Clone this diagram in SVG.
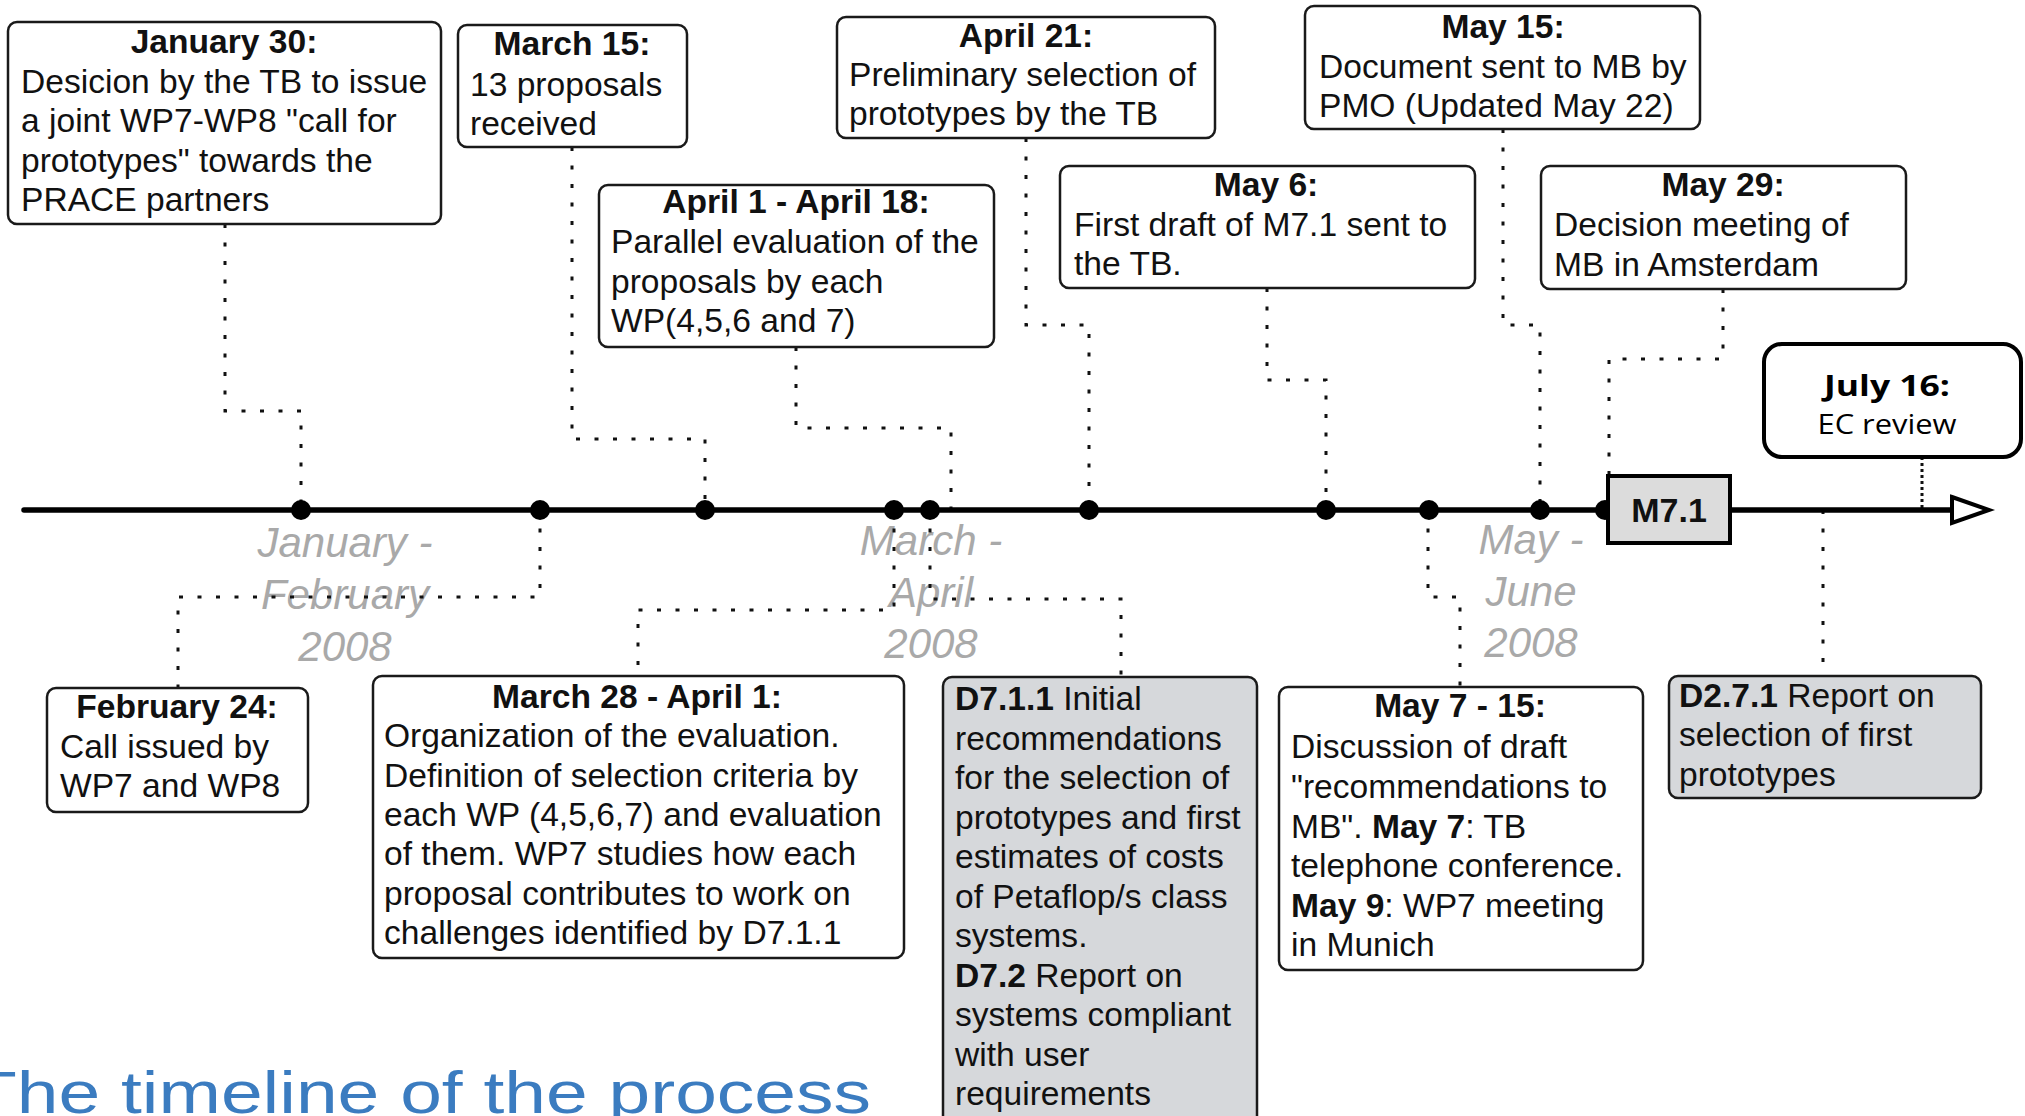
<svg xmlns="http://www.w3.org/2000/svg" width="2025" height="1116" viewBox="0 0 2025 1116">
<style>
.box{fill:#fff;stroke:#1a1a1a;stroke-width:2.5}
.dbox{fill:#d6d8db;stroke:#1a1a1a;stroke-width:2.5}
.t{font-family:"Liberation Sans",Arial,Helvetica,sans-serif;font-size:33.6px;fill:#111}
.h{font-weight:bold;text-anchor:middle}
.b{font-weight:bold}
.season{font-family:"Liberation Sans",Arial,sans-serif;font-size:42px;font-style:italic;fill:#a9a9a9;text-anchor:middle}
.con{fill:none;stroke:#111;stroke-width:3;stroke-dasharray:4 14.5}
.con2{fill:none;stroke:#111;stroke-width:3;stroke-dasharray:3 3}
.dot{fill:#000}
</style>
<rect width="2025" height="1116" fill="#fff"/>
<g id="seasons">
<text class="season" x="345" y="557">January -</text>
<text class="season" x="345" y="609">February</text>
<text class="season" x="345" y="661">2008</text>
<text class="season" x="931" y="555">March -</text>
<text class="season" x="931" y="607">April</text>
<text class="season" x="931" y="658">2008</text>
<text class="season" x="1531" y="554">May -</text>
<text class="season" x="1531" y="606">June</text>
<text class="season" x="1531" y="657">2008</text>
</g>
<g id="connectors">
<path class="con" d="M225,224 V411 H301 V510"/>
<path class="con" d="M572,147 V439 H705 V510"/>
<path class="con" d="M796,347 V428 H951 V510"/>
<path class="con" d="M1026,138 V325 H1089 V510"/>
<path class="con" d="M1267,288 V380 H1326 V510"/>
<path class="con" d="M1503,129 V325 H1540 V510"/>
<path class="con" d="M1723,289 V359 H1609 V476"/>
<path class="con2" d="M1922,457 V510"/>
<path class="con" d="M540,510 V597 H178 V688"/>
<path class="con" d="M894,510 V610 H638 V676"/>
<path class="con" d="M930,510 V599 H1121 V677"/>
<path class="con" d="M1428,510 V597 H1460 V687"/>
<path class="con" d="M1823,510 V676"/>
</g>
<g id="axis">
<line x1="24" y1="510" x2="1954" y2="510" stroke="#000" stroke-width="5.5" stroke-linecap="round"/>
<polygon points="1952,497 1989,510 1952,523" fill="#fff" stroke="#000" stroke-width="4" stroke-linejoin="miter"/>
<circle class="dot" cx="301" cy="510" r="10"/>
<circle class="dot" cx="540" cy="510" r="10"/>
<circle class="dot" cx="705" cy="510" r="10"/>
<circle class="dot" cx="894" cy="510" r="10"/>
<circle class="dot" cx="930" cy="510" r="10"/>
<circle class="dot" cx="1089" cy="510" r="10"/>
<circle class="dot" cx="1326" cy="510" r="10"/>
<circle class="dot" cx="1429" cy="510" r="10"/>
<circle class="dot" cx="1540" cy="510" r="10"/>
<circle class="dot" cx="1605" cy="510" r="10"/>
</g>
<g id="jan30">
<rect class="box" x="8" y="22" width="433" height="202" rx="9"/>
<text class="t h" x="224" y="53">January 30:</text>
<text class="t" x="21" y="93">Desicion by the TB to issue</text>
<text class="t" x="21" y="132">a joint WP7-WP8 "call for</text>
<text class="t" x="21" y="172">prototypes" towards the</text>
<text class="t" x="21" y="211">PRACE partners</text>
</g>
<g id="mar15">
<rect class="box" x="458" y="25" width="229" height="122" rx="9"/>
<text class="t h" x="572" y="55">March 15:</text>
<text class="t" x="470" y="96">13 proposals</text>
<text class="t" x="470" y="135">received</text>
</g>
<g id="apr1">
<rect class="box" x="599" y="185" width="395" height="162" rx="9"/>
<text class="t h" x="796" y="213">April 1 - April 18:</text>
<text class="t" x="611" y="253">Parallel evaluation of the</text>
<text class="t" x="611" y="293">proposals by each</text>
<text class="t" x="611" y="332">WP(4,5,6 and 7)</text>
</g>
<g id="apr21">
<rect class="box" x="837" y="17" width="378" height="121" rx="9"/>
<text class="t h" x="1026" y="47">April 21:</text>
<text class="t" x="849" y="86">Preliminary selection of</text>
<text class="t" x="849" y="125">prototypes by the TB</text>
</g>
<g id="may6">
<rect class="box" x="1060" y="166" width="415" height="122" rx="9"/>
<text class="t h" x="1266" y="196">May 6:</text>
<text class="t" x="1074" y="236">First draft of M7.1 sent to</text>
<text class="t" x="1074" y="275">the TB.</text>
</g>
<g id="may15">
<rect class="box" x="1305" y="6" width="395" height="123" rx="9"/>
<text class="t h" x="1503" y="38">May 15:</text>
<text class="t" x="1319" y="78">Document sent to MB by</text>
<text class="t" x="1319" y="117">PMO (Updated May 22)</text>
</g>
<g id="may29">
<rect class="box" x="1541" y="166" width="365" height="123" rx="9"/>
<text class="t h" x="1723" y="196">May 29:</text>
<text class="t" x="1554" y="236">Decision meeting of</text>
<text class="t" x="1554" y="276">MB in Amsterdam</text>
</g>
<g id="jul16">
<rect x="1764" y="344" width="257" height="113" rx="18" fill="#fff" stroke="#000" stroke-width="4"/>
<text x="1887" y="396" text-anchor="middle" font-family="'Open Sans','Noto Sans',sans-serif" font-size="29" font-weight="bold" fill="#000" textLength="126" lengthAdjust="spacingAndGlyphs">July 16:</text>
<text x="1887" y="434" text-anchor="middle" font-family="'Open Sans','Noto Sans',sans-serif" font-size="28" fill="#000" textLength="139" lengthAdjust="spacingAndGlyphs">EC review</text>
</g>
<g id="m71">
<rect x="1608" y="476" width="122" height="67" fill="#dcdcdc" stroke="#000" stroke-width="4"/>
<text class="t h" x="1669" y="522" style="font-size:34px">M7.1</text>
</g>
<g id="feb24">
<rect class="box" x="47" y="688" width="261" height="124" rx="9"/>
<text class="t h" x="177" y="718">February 24:</text>
<text class="t" x="60" y="758">Call issued by</text>
<text class="t" x="60" y="797">WP7 and WP8</text>
</g>
<g id="mar28">
<rect class="box" x="373" y="676" width="531" height="282" rx="9"/>
<text class="t h" x="637" y="708">March 28 - April 1:</text>
<text class="t" x="384" y="747">Organization of the evaluation.</text>
<text class="t" x="384" y="787">Definition of selection criteria by</text>
<text class="t" x="384" y="826">each WP (4,5,6,7) and evaluation</text>
<text class="t" x="384" y="865">of them. WP7 studies how each</text>
<text class="t" x="384" y="905">proposal contributes to work on</text>
<text class="t" x="384" y="944">challenges identified by D7.1.1</text>
</g>
<g id="d711">
<rect class="dbox" x="943" y="677" width="314" height="460" rx="9"/>
<text class="t" x="955" y="710"><tspan class="b">D7.1.1</tspan> Initial</text>
<text class="t" x="955" y="750">recommendations</text>
<text class="t" x="955" y="789">for the selection of</text>
<text class="t" x="955" y="829">prototypes and first</text>
<text class="t" x="955" y="868">estimates of costs</text>
<text class="t" x="955" y="908">of Petaflop/s class</text>
<text class="t" x="955" y="947">systems.</text>
<text class="t" x="955" y="987"><tspan class="b">D7.2</tspan> Report on</text>
<text class="t" x="955" y="1026">systems compliant</text>
<text class="t" x="955" y="1066">with user</text>
<text class="t" x="955" y="1105">requirements</text>
</g>
<g id="may7">
<rect class="box" x="1279" y="687" width="364" height="283" rx="9"/>
<text class="t h" x="1460" y="717">May 7 - 15:</text>
<text class="t" x="1291" y="758">Discussion of draft</text>
<text class="t" x="1291" y="798">"recommendations to</text>
<text class="t" x="1291" y="838">MB". <tspan class="b">May 7</tspan>: TB</text>
<text class="t" x="1291" y="877">telephone conference.</text>
<text class="t" x="1291" y="917"><tspan class="b">May 9</tspan>: WP7 meeting</text>
<text class="t" x="1291" y="956">in Munich</text>
</g>
<g id="d271">
<rect class="dbox" x="1669" y="676" width="312" height="122" rx="9"/>
<text class="t" x="1679" y="707"><tspan class="b">D2.7.1</tspan> Report on</text>
<text class="t" x="1679" y="746">selection of first</text>
<text class="t" x="1679" y="786">prototypes</text>
</g>
<g id="title">
<text x="-29" y="1113" font-family="'Liberation Sans',Arial,sans-serif" font-size="60" fill="#3b7cc0" textLength="900" lengthAdjust="spacingAndGlyphs">The timeline of the process</text>
</g>
</svg>
